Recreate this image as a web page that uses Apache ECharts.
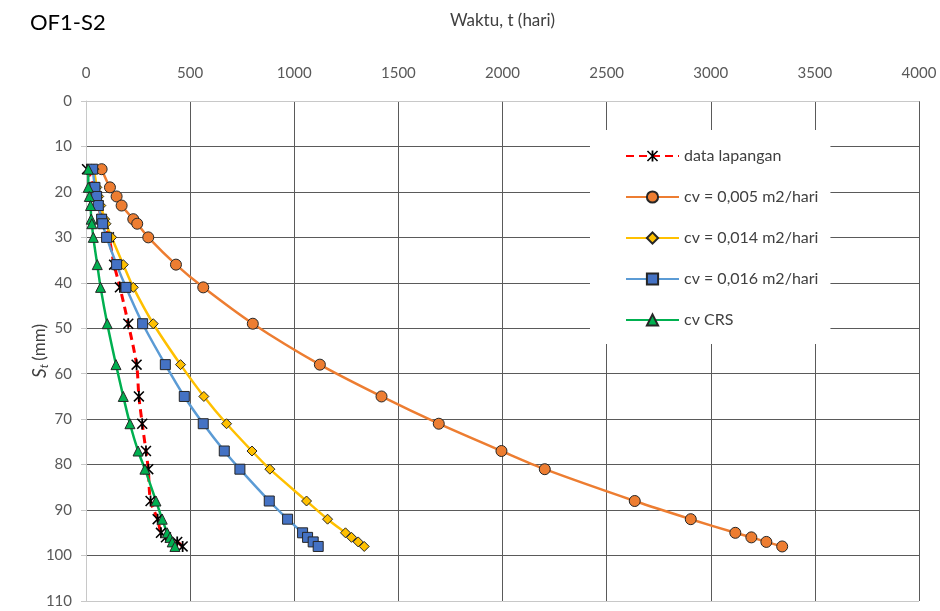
<!DOCTYPE html>
<html>
<head>
<meta charset="utf-8">
<script src="https://cdn.jsdelivr.net/npm/echarts@6/dist/echarts.min.js"></script>
<style>html,body{margin:0;padding:0;background:#fff;}#c{width:940px;height:611px;}</style>
</head>
<body>
<div id="c"></div>
<script>
// settlement levels (mm), shared by all series
const settlement = [15, 19, 21, 23, 26, 27, 30, 36, 41, 49, 58, 65, 71, 77, 81, 88, 92, 95, 96, 97, 98];
// time (days) for each series
const tField = [5, 40, 50, 60, 75, 85, 110, 135, 163, 203, 243, 254, 270, 288, 299, 310, 344, 360, 384, 438, 464];
const tCv005 = [75, 115, 147, 171, 227, 246, 299, 432, 563, 801, 1123, 1419, 1694, 1995, 2203, 2635, 2904, 3118, 3195, 3267, 3343];
const tCv014 = [38, 52, 61, 71, 90, 96, 123, 179, 227, 323, 454, 566, 675, 797, 883, 1059, 1160, 1246, 1275, 1307, 1336];
const tCv016 = [32, 43, 51, 59, 75, 80, 99, 147, 192, 272, 381, 472, 563, 664, 739, 880, 968, 1040, 1064, 1091, 1115];
const tCRS   = [11, 11, 16, 22, 25, 28, 35, 54, 70, 102, 144, 179, 211, 250, 283, 336, 366, 390, 403, 414, 427];
const seriesNames = ['data lapangan', 'cv = 0,005 m2/hari', 'cv = 0,014 m2/hari', 'cv = 0,016 m2/hari', 'cv CRS'];

const pair = (t) => t.map((v, i) => [v, settlement[i]]);
const FONT = 'Lato, "Open Sans", sans-serif';
const star = 'path://M4.2,0 L5.8,0 L5.8,10 L4.2,10 Z M1,0 L10,9 L9,10 L0,1 Z M9,0 L10,1 L1,10 L0,9 Z';
const dark = '#5a5a5a', light = '#c8c8c8';

const chart = echarts.init(document.getElementById('c'));
chart.setOption({
  animation: false,
  backgroundColor: '#fff',
  title: { text: 'OF1-S2', left: 25, top: 7, textStyle: { fontFamily: FONT, fontSize: 22, fontWeight: 'normal', color: '#000' } },
  grid: { left: 86, right: 21, top: 101, bottom: 10 },
  legend: {
    orient: 'vertical', left: 590, top: 130,
    padding: [18, 12, 16, 35],
    backgroundColor: '#fff',
    itemWidth: 53, itemHeight: 14, itemGap: 25,
    textStyle: { fontFamily: FONT, fontSize: 16, color: '#404040' },
    data: seriesNames
  },
  xAxis: {
    type: 'value', position: 'top', min: 0, max: 4000, interval: 500,
    name: 'Waktu, t (hari)', nameLocation: 'middle', nameGap: 72, nameMoveOverlap: false,
    nameTextStyle: { fontFamily: FONT, fontSize: 17, color: '#404040' },
    axisLine: { show: true, lineStyle: { color: light, width: 1 } },
    axisTick: { show: false },
    axisLabel: { margin: 20, fontFamily: FONT, fontSize: 15, color: '#595959', formatter: (v) => String(v) },
    splitLine: { show: true, lineStyle: { color: [light, dark, dark, dark, dark, dark, dark, dark, dark], width: 1 } }
  },
  yAxis: {
    type: 'value', inverse: true, min: 0, max: 110, interval: 10,
    name: '{i|S}{s|t} {n|(mm)}', nameLocation: 'middle', nameGap: 36, nameRotate: 90, nameMoveOverlap: false,
    nameTextStyle: {
      rich: {
        i: { fontFamily: FONT, fontSize: 19, fontStyle: 'italic', color: '#404040' },
        s: { fontFamily: FONT, fontSize: 12, fontStyle: 'italic', color: '#404040', verticalAlign: 'bottom', padding: [8, 0, 0, 0] },
        n: { fontFamily: FONT, fontSize: 17, color: '#404040' }
      }
    },
    axisLine: { show: true, lineStyle: { color: light, width: 1 } },
    axisTick: { show: true, length: 5, lineStyle: { color: light } },
    axisLabel: { margin: 14, fontFamily: FONT, fontSize: 15, color: '#595959' },
    splitLine: { show: true, lineStyle: { color: [light, dark, dark, dark, dark, dark, dark, dark, dark, dark, dark, light], width: 1 } }
  },
  series: [
    {
      name: seriesNames[0], type: 'line', data: pair(tField), smooth: 0.3,
      symbol: star, symbolSize: 11,
      lineStyle: { color: '#ff0000', width: 3, type: [8, 5] },
      itemStyle: { color: '#000', borderWidth: 0 }
    },
    {
      name: seriesNames[1], type: 'line', data: pair(tCv005), smooth: 0.3,
      symbol: 'circle', symbolSize: 11,
      lineStyle: { color: '#ed7d31', width: 2.5 },
      itemStyle: { color: '#ed7d31', borderColor: '#262626', borderWidth: 1 }
    },
    {
      name: seriesNames[2], type: 'line', data: pair(tCv014), smooth: 0.3,
      symbol: 'diamond', symbolSize: 10,
      lineStyle: { color: '#ffc000', width: 2.5 },
      itemStyle: { color: '#ffc000', borderColor: '#262626', borderWidth: 1 }
    },
    {
      name: seriesNames[3], type: 'line', data: pair(tCv016), smooth: 0.3,
      symbol: 'rect', symbolSize: 10,
      lineStyle: { color: '#5b9bd5', width: 2.5 },
      itemStyle: { color: '#4472c4', borderColor: '#262626', borderWidth: 1 }
    },
    {
      name: seriesNames[4], type: 'line', data: pair(tCRS), smooth: 0.3,
      symbol: 'triangle', symbolSize: 10,
      lineStyle: { color: '#00b050', width: 2.5 },
      itemStyle: { color: '#00b050', borderColor: '#262626', borderWidth: 1 }
    }
  ]
});
</script>
</body>
</html>
